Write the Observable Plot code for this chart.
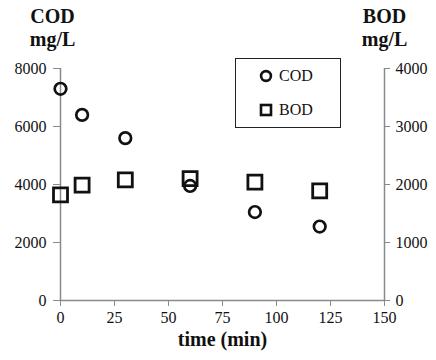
<!DOCTYPE html>
<html>
<head>
<meta charset="utf-8">
<script src="https://cdn.jsdelivr.net/npm/d3@7"></script>
<script src="https://cdn.jsdelivr.net/npm/@observablehq/plot@0.6"></script>
</head>
<body style="margin:0;background:#fff">
<div id="wrap" style="position:relative;width:436px;height:360px">
  <div id="chart"></div>
  <div id="legend" style="position:absolute;left:235px;top:58px;width:106px;height:70px;border:1px solid #222;background:#fff;box-sizing:border-box;font-family:'Liberation Serif';font-size:16px;color:#111"></div>
</div>
<script>
const times = [0, 10, 30, 60, 90, 120];
const codValues = [7300, 6400, 5600, 3950, 3050, 2550];
const bodValues = [1820, 1990, 2080, 2100, 2040, 1890];
const xTicks = [0, 25, 50, 75, 100, 125, 150];
const codTicks = [0, 2000, 4000, 6000, 8000];
const bodTicks = [0, 1000, 2000, 3000, 4000];
const seriesNames = ["COD", "BOD"];

const cod = times.map((t, i) => ({t, v: codValues[i]}));
// BOD is drawn on the right axis (0-4000), mapped onto the shared y scale (0-8000)
const bod = times.map((t, i) => ({t, v: bodValues[i] * 2}));

const ff = "Liberation Serif";
const axisGrey = "#8a8a8a";
const chart = Plot.plot({
  width: 436,
  height: 360,
  marginLeft: 60,
  marginRight: 52,
  marginTop: 68,
  marginBottom: 60,
  style: {fontSize: "16px", color: "#111", background: "white"},
  x: {domain: [0, 150]},
  y: {domain: [0, 8000]},
  marks: [
    Plot.ruleX([0], {stroke: axisGrey, strokeWidth: 1.5}),
    Plot.ruleX([150], {stroke: axisGrey, strokeWidth: 1.5}),
    Plot.ruleY([0], {stroke: axisGrey, strokeWidth: 1.5}),
    Plot.axisX({ticks: xTicks, tickSize: 6, tickPadding: 5, stroke: axisGrey, fill: "#111", label: null, fontSize: 16, fontFamily: ff, fontVariant: "normal"}),
    Plot.axisY({anchor: "left", ticks: codTicks, tickSize: 7, tickPadding: 7, stroke: axisGrey, fill: "#111", label: null, tickFormat: d => String(d), fontSize: 16, fontFamily: ff, fontVariant: "normal"}),
    Plot.axisY({anchor: "right", ticks: bodTicks.map(d => d * 2), tickSize: 5, tickPadding: 6, stroke: axisGrey, fill: "#111", label: null, tickFormat: d => String(d / 2), fontSize: 16, fontFamily: ff, fontVariant: "normal"}),
    Plot.dot(cod, {x: "t", y: "v", symbol: "circle", r: 5.8, stroke: "#111", strokeWidth: 2.7, fill: "none"}),
    Plot.dot(bod, {x: "t", y: "v", symbol: "square", r: 7.9, stroke: "#111", strokeWidth: 2.8, fill: "none"}),
    Plot.text(["COD\nmg/L"], {frameAnchor: "top-left", dx: -8, dy: -62, lineHeight: 1.15, fontSize: 20, fontWeight: "bold", textAnchor: "middle", lineAnchor: "top", fill: "#111", fontFamily: ff}),
    Plot.text(["BOD\nmg/L"], {frameAnchor: "top-right", dx: 0, dy: -62, lineHeight: 1.15, fontSize: 20, fontWeight: "bold", textAnchor: "middle", lineAnchor: "top", fill: "#111", fontFamily: ff}),
    Plot.text(["time (min)"], {frameAnchor: "bottom", dy: 45, fontSize: 20, fontWeight: "bold", fill: "#111", fontFamily: ff})
  ]
});
chart.style.fontFamily = "'Liberation Serif'";
document.getElementById("chart").appendChild(chart);

// Legend
const legend = document.getElementById("legend");
const sym = {
  COD: '<svg width="14" height="14" style="display:block"><circle cx="7" cy="7" r="4.9" fill="none" stroke="#111" stroke-width="2.6"/></svg>',
  BOD: '<svg width="14" height="14" style="display:block"><rect x="2" y="2" width="10" height="10" fill="none" stroke="#111" stroke-width="2.6"/></svg>'
};
seriesNames.forEach((name, i) => {
  const d = document.createElement("div");
  d.style.position = "absolute";
  d.style.left = "23px";
  d.style.top = (i === 0 ? 10 : 44) + "px";
  d.style.display = "flex";
  d.style.alignItems = "center";
  d.style.gap = "6px";
  d.style.lineHeight = "14px";
  d.innerHTML = sym[name] + "<span>" + name + "</span>";
  legend.appendChild(d);
});
</script>
</body>
</html>
